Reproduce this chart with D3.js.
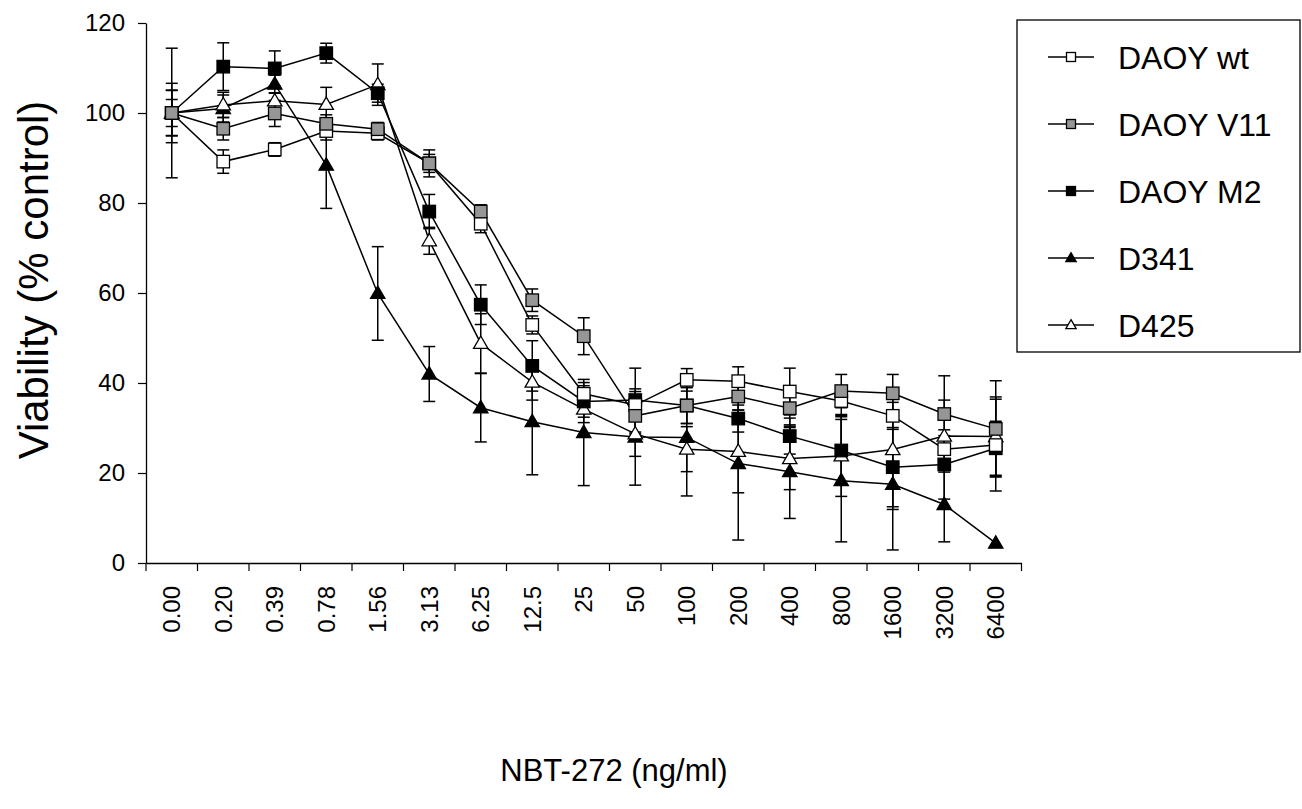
<!DOCTYPE html>
<html><head><meta charset="utf-8">
<script src="https://cdn.jsdelivr.net/npm/d3@7"></script>
<style>body{margin:0;background:#fff}svg{display:block;font-family:"Liberation Sans",Arial,sans-serif}</style>
</head><body>
<svg id="c" width="1302" height="809"></svg>
<script>
const categories = ["0.00","0.20","0.39","0.78","1.56","3.13","6.25","12.5","25","50","100","200","400","800","1600","3200","6400"];
const seriesNames = ["DAOY wt","DAOY V11","DAOY M2","D341","D425"];
const wtValues   = [100, 89.2, 91.9, 96.0, 95.5, 88.8, 75.4, 52.9, 37.6, 35.1, 40.7, 40.4, 38.1, 36.0, 32.7, 25.3, 26.2];
const v11Values  = [100, 96.5, 99.9, 97.6, 96.4, 88.8, 78.1, 58.4, 50.4, 32.7, 35.0, 37.0, 34.4, 38.2, 37.7, 33.1, 29.8];
const m2Values   = [100, 110.3, 109.9, 113.3, 104.4, 78.1, 57.4, 43.8, 35.9, 36.2, 35.0, 32.1, 28.2, 25.0, 21.3, 21.9, 25.5];
const d341Values = [100, 101.0, 106.4, 88.4, 59.9, 42.0, 34.5, 31.4, 29.0, 28.0, 27.9, 22.1, 20.3, 18.3, 17.5, 13.0, 4.4];
const d425Values = [100, 101.8, 102.7, 101.9, 106.3, 71.6, 48.8, 40.2, 34.2, 28.7, 25.3, 24.8, 23.2, 23.8, 25.2, 28.2, 28.1];
const wtErr   = [5.0, 2.6, 1.5, 2.0, 1.5, 2.0, 2.0, 2.0, 2.5, 3.0, 2.5, 3.2, 5.2, 3.0, 3.0, 3.0, 10.2];
const v11Err  = [5.1, 2.5, 2.9, 2.0, 1.5, 3.0, 1.5, 2.5, 4.1, 4.0, 4.0, 3.0, 4.0, 3.7, 4.2, 8.5, 10.7];
const m2Err   = [6.6, 5.3, 3.9, 2.2, 2.0, 3.8, 4.4, 5.6, 3.5, 7.1, 4.0, 3.0, 4.0, 7.5, 8.8, 7.7, 6.0];
const d341Err = [14.4, 3.0, 2.0, 9.6, 10.4, 6.1, 7.6, 11.8, 11.8, 10.7, 13.0, 17.0, 10.4, 13.6, 14.6, 8.3, 0];
const d425Err = [3.0, 2.8, 1.8, 3.8, 4.6, 3.0, 6.6, 4.0, 3.0, 5.0, 5.0, 9.2, 6.9, 9.0, 13.3, 8.0, 8.8];
const yTicks = [0, 20, 40, 60, 80, 100, 120];

const series = [
  {name: seriesNames[0], values: wtValues,   err: wtErr,   shape: "square",   fill: "#ffffff"},
  {name: seriesNames[1], values: v11Values,  err: v11Err,  shape: "square",   fill: "#969696"},
  {name: seriesNames[2], values: m2Values,   err: m2Err,   shape: "square",   fill: "#000000"},
  {name: seriesNames[3], values: d341Values, err: d341Err, shape: "triangle", fill: "#000000"},
  {name: seriesNames[4], values: d425Values, err: d425Err, shape: "triangle", fill: "#ffffff"}
];
const drawOrder = [3, 4, 2, 0, 1];

const svg = d3.select("#c");
const x = d3.scaleBand().domain(categories).range([146, 1021.5]);
const y = d3.scaleLinear().domain([0, 120]).range([563, 23]);
const cx = c => x(c) + x.bandwidth() / 2;

// Y axis
const yAxis = svg.append("g").attr("transform", "translate(146,0)")
  .call(d3.axisLeft(y).tickValues(yTicks).tickSize(8).tickPadding(13).tickSizeOuter(0));
yAxis.select(".domain").attr("stroke", "#000").attr("stroke-width", 1.3);
yAxis.selectAll(".tick line").attr("stroke", "#000").attr("stroke-width", 1.2);
yAxis.selectAll("text").attr("font-size", 24).attr("fill", "#000").attr("font-family", "Liberation Sans, Arial, sans-serif");

// X axis
const xAxis = svg.append("g").attr("transform", "translate(0,563)")
  .call(d3.axisBottom(x).tickSize(0).tickPadding(0).tickSizeOuter(0));
xAxis.select(".domain").attr("stroke", "#000").attr("stroke-width", 1.3);
xAxis.selectAll(".tick line").remove();
xAxis.selectAll(".tick text")
  .attr("font-size", 24).attr("fill", "#000").attr("font-family", "Liberation Sans, Arial, sans-serif")
  .attr("text-anchor", "end").attr("transform", "rotate(-90)")
  .attr("x", -23).attr("y", 0).attr("dy", "0.36em");
const bounds = categories.map(c => x(c)).concat([x(categories[categories.length - 1]) + x.bandwidth()]);
xAxis.selectAll("line.bt").data(bounds).enter().append("line").attr("class", "bt")
  .attr("x1", d => d).attr("x2", d => d).attr("y1", 0).attr("y2", 8)
  .attr("stroke", "#000").attr("stroke-width", 1.2);

// Titles
svg.append("text").attr("x", 614).attr("y", 781).attr("text-anchor", "middle")
  .attr("font-size", 31).text("NBT-272 (ng/ml)");
svg.append("text").attr("transform", "translate(48,280) rotate(-90)").attr("text-anchor", "middle")
  .attr("font-size", 42).text("Viability (% control)");

const line = d3.line().x((d, i) => cx(categories[i])).y(d => y(d));
const plot = svg.append("g");

function marker(g, shape, fill, px, py, s) {
  if (shape === "square") {
    g.append("rect").attr("x", px - s / 2).attr("y", py - s / 2).attr("width", s).attr("height", s)
      .attr("fill", fill).attr("stroke", "#000").attr("stroke-width", 1.3);
  } else {
    const h = s * 0.95, w = s * 1.15;
    g.append("path").attr("d", `M${px},${py - h * 0.62}L${px + w / 2},${py + h * 0.42}L${px - w / 2},${py + h * 0.42}Z`)
      .attr("fill", fill).attr("stroke", "#000").attr("stroke-width", 1.3);
  }
}

drawOrder.forEach(si => {
  const s = series[si];
  const g = plot.append("g");
  s.values.forEach((v, i) => {
    const e = s.err[i];
    if (!e) return;
    const px = cx(categories[i]);
    g.append("line").attr("x1", px).attr("x2", px).attr("y1", y(v + e)).attr("y2", y(v - e)).attr("stroke", "#000").attr("stroke-width", 1.5);
    [v + e, v - e].forEach(t => g.append("line").attr("x1", px - 6).attr("x2", px + 6).attr("y1", y(t)).attr("y2", y(t)).attr("stroke", "#000").attr("stroke-width", 1.5));
  });
});
drawOrder.forEach(si => {
  const s = series[si];
  plot.append("path").datum(s.values).attr("d", line).attr("fill", "none").attr("stroke", "#000").attr("stroke-width", 1.5);
});
drawOrder.forEach(si => {
  const s = series[si];
  const g = plot.append("g");
  s.values.forEach((v, i) => marker(g, s.shape, s.fill, cx(categories[i]), y(v), 12.5));
});

// Legend
const lg = svg.append("g");
lg.append("rect").attr("x", 1017).attr("y", 20).attr("width", 283).attr("height", 332)
  .attr("fill", "#fff").attr("stroke", "#000").attr("stroke-width", 1.3);
series.forEach((s, i) => {
  const ly = 57 + i * 67;
  lg.append("line").attr("x1", 1048).attr("x2", 1094).attr("y1", ly).attr("y2", ly).attr("stroke", "#000").attr("stroke-width", 1.3);
  marker(lg, s.shape, s.fill, 1071, ly, 9);
  lg.append("text").attr("x", 1118).attr("y", ly).attr("dy", "0.36em").attr("font-size", 32).text(s.name);
});
</script>
</body></html>
